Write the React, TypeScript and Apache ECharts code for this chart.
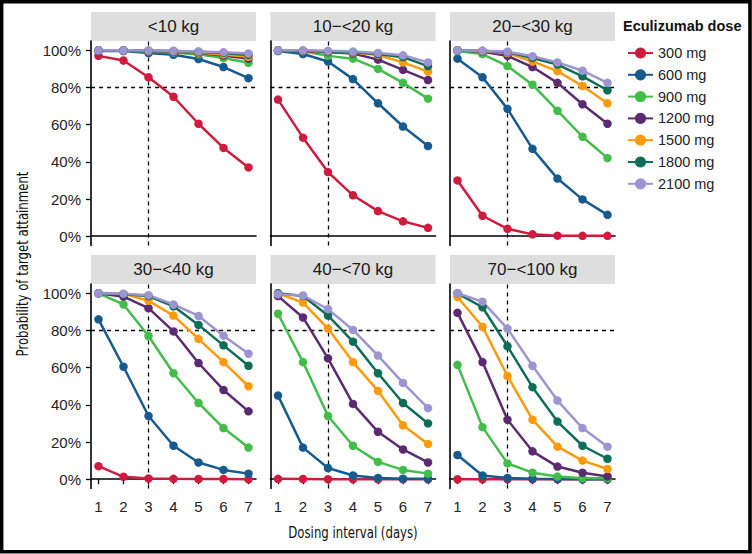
import React, { useEffect, useRef } from "react";
import * as echarts from "echarts";

const xValues = [1, 2, 3, 4, 5, 6, 7];
const xTicks = [1, 2, 3, 4, 5, 6, 7];
const yTicks = [0, 20, 40, 60, 80, 100];
const doses = ["300 mg", "600 mg", "900 mg", "1200 mg", "1500 mg", "1800 mg", "2100 mg"];
const doseColors = ["#CE1B3E", "#165A8E", "#42BD4A", "#5B2A70", "#FF9A0A", "#0E6D56", "#9D94D2"];
const panelTitles = ["<10 kg", "10−<20 kg", "20−<30 kg", "30−<40 kg", "40−<70 kg", "70−<100 kg"];
const refX = 3;
const refY = 80;

// rows: 300, 600, 900, 1200, 1500, 1800, 2100 mg
const wt0to10 = [
  [97, 94.5, 85.5, 75, 60.5, 47.5, 37],
  [99.6, 99.6, 98.5, 97.6, 95.3, 91, 85],
  [100, 99.8, 99.3, 98.8, 97.8, 95.8, 93.3],
  [100, 100, 99.6, 99.2, 98.5, 97.2, 95.5],
  [100, 100, 99.7, 99.4, 98.8, 97.8, 96.5],
  [100, 100, 99.8, 99.6, 99.2, 98.6, 97.5],
  [100, 100, 99.9, 99.7, 99.4, 99, 98.3],
];
const wt10to20 = [
  [73.5, 53, 34.5, 22, 13.5, 8, 4.5],
  [99.6, 98, 94, 84.5, 71.5, 59, 48.5],
  [99.8, 99.5, 97, 95.5, 90, 82.5, 74],
  [100, 99.3, 99, 98.3, 95, 89.5, 84],
  [100, 99.6, 99.3, 98.8, 97.5, 93.5, 88.5],
  [100, 99.8, 99.4, 99, 98, 96.3, 91.5],
  [100, 100, 99.7, 99.3, 98.6, 97.3, 93.5],
];
const wt20to30 = [
  [30, 11, 4, 1, 0.3, 0.2, 0.2],
  [95.5, 85.5, 68.5, 47, 31, 19.8, 11.5],
  [99.6, 98, 91.5, 81.5, 67.5, 53.5, 42],
  [100, 99.2, 97, 91, 82.5, 71, 60.5],
  [100, 99.5, 98.5, 94, 88.8, 80.8, 71.5],
  [100, 99.7, 99, 95.9, 92.3, 86, 78.5],
  [100, 99.8, 99.3, 96.8, 93.5, 89, 82.5],
];
const wt30to40 = [
  [7, 1.3, 0.4, 0.2, 0.1, 0.1, 0],
  [86, 60.5, 34, 18, 9, 5, 3],
  [100, 94, 77, 57, 41, 27.5, 17],
  [100, 98.2, 92, 79.5, 62.5, 48, 36.5],
  [100, 99.8, 96, 88, 75.5, 63, 50],
  [100, 99.5, 98.5, 93, 83, 72, 61],
  [100, 99.8, 99, 94, 87.8, 77.2, 67.5],
];
const wt40to70 = [
  [0.2, 0.1, 0, 0, 0, 0, 0],
  [45, 17, 6, 2, 0.7, 0.3, 0.2],
  [89, 63, 34, 18, 9.3, 5, 3],
  [98.5, 87, 65, 40.5, 25.5, 16, 9],
  [100, 95, 81, 63, 47.5, 29, 19],
  [100, 98.5, 88, 74, 57, 41, 30],
  [99.5, 98.8, 91.5, 80.3, 66.5, 51.8, 38.2],
];
const wt70to100 = [
  [0, 0, 0, 0, 0, 0, 0],
  [13, 2, 0.7, 0.3, 0.1, 0, 0],
  [61.5, 28, 8.5, 3.5, 1.4, 0.5, 0.5],
  [89.5, 63, 32, 15, 6.8, 3.5, 1.5],
  [98, 82, 55.5, 32, 17.5, 10, 5.5],
  [100, 92.5, 71.5, 49.5, 31, 18, 11],
  [100, 95.5, 81, 61, 42.3, 27.5, 17.5],
];
const panelData = [wt0to10, wt10to20, wt20to30, wt30to40, wt40to70, wt70to100];

const FONT = "'Liberation Sans', Arial, Helvetica, sans-serif";
const NARROW = "'Liberation Sans Narrow', 'DejaVu Sans Condensed', 'Liberation Sans', sans-serif";

const colLefts = [91, 270.5, 450];
const rowTops = [41, 284];
const gridW = 165;
const gridH = 204.5;
const stripH = 29;

function buildOption() {
  const grids: any[] = [];
  const xAxes: any[] = [];
  const yAxes: any[] = [];
  const series: any[] = [];
  const graphics: any[] = [];

  panelTitles.forEach((title, p) => {
    const row = Math.floor(p / 3);
    const col = p % 3;
    const left = colLefts[col];
    const top = rowTops[row];
    grids.push({ left, top, width: gridW, height: gridH, containLabel: false });
    xAxes.push({
      gridIndex: p,
      type: "value",
      min: 0.7,
      max: 7.3,
      axisLine: { show: true, lineStyle: { color: "#000", width: 1.6 } },
      axisTick: { show: row === 1, length: 5, lineStyle: { color: "#000", width: 1.3 }, customValues: xTicks },
      axisLabel: {
        show: row === 1,
        customValues: xTicks,
        fontSize: 15,
        color: "#222",
        margin: 10,
        fontFamily: FONT,
      },
      splitLine: { show: false },
    });
    yAxes.push({
      gridIndex: p,
      type: "value",
      min: -5,
      max: 105,
      axisLine: { show: true, lineStyle: { color: "#000", width: 1.6 } },
      axisTick: { show: col === 0, length: 5, lineStyle: { color: "#000", width: 1.3 }, customValues: yTicks },
      axisLabel: {
        show: col === 0,
        customValues: yTicks,
        formatter: (v: number) => `${v}%`,
        fontSize: 15,
        color: "#222",
        margin: 10,
        fontFamily: FONT,
      },
      splitLine: { show: false },
    });
    panelData[p].forEach((vals, d) => {
      const s: any = {
        type: "line",
        name: doses[d],
        xAxisIndex: p,
        yAxisIndex: p,
        data: xValues.map((x, i) => [x, vals[i]]),
        symbol: "circle",
        symbolSize: 8.5,
        lineStyle: { width: 2.5, color: doseColors[d] },
        itemStyle: { color: doseColors[d] },
        silent: true,
        z: 3,
      };
      if (d === 0) {
        s.markLine = {
          silent: true,
          symbol: "none",
          label: { show: false },
          lineStyle: { color: "#000", type: [4, 4], width: 1.3 },
          z: 2,
          data: [{ xAxis: refX }, { yAxis: refY }],
        };
      }
      series.push(s);
    });
    graphics.push({
      type: "rect",
      shape: { x: left, y: top - stripH, width: gridW, height: stripH },
      style: { fill: "#DEDEDE" },
      silent: true,
    });
    graphics.push({
      type: "text",
      x: left + gridW / 2,
      y: top - stripH / 2,
      style: {
        text: title,
        fontSize: 17,
        fill: "#1a1a1a",
        fontFamily: FONT,
        align: "center",
        verticalAlign: "middle",
      },
      silent: true,
    });
  });

  graphics.push({
    type: "text",
    x: 22,
    y: 264,
    rotation: Math.PI / 2,
    scaleX: 0.79,
    style: {
      text: "Probability of target attainment",
      fontSize: 16.5,
      fill: "#111",
      fontFamily: NARROW,
      align: "center",
      verticalAlign: "middle",
    },
    silent: true,
  });
  graphics.push({
    type: "text",
    x: 353,
    y: 532,
    scaleX: 0.79,
    style: {
      text: "Dosing interval (days)",
      fontSize: 16.5,
      fill: "#111",
      fontFamily: NARROW,
      align: "center",
      verticalAlign: "middle",
    },
    silent: true,
  });
  graphics.push({
    type: "text",
    x: 623,
    y: 26,
    style: {
      text: "Eculizumab dose",
      fontSize: 14.5,
      fontWeight: "bold",
      fill: "#111",
      fontFamily: FONT,
      align: "left",
      verticalAlign: "middle",
    },
    silent: true,
  });
  graphics.push({
    type: "rect",
    shape: { x: 1.6, y: 1.6, width: 748.4, height: 550.2 },
    style: { fill: "none", stroke: "#000", lineWidth: 3.6 },
    silent: true,
  });

  return {
    animation: false,
    backgroundColor: "#fff",
    grid: grids,
    xAxis: xAxes,
    yAxis: yAxes,
    series,
    legend: {
      orient: "vertical",
      left: 622,
      top: 40.5,
      itemWidth: 25,
      itemHeight: 14,
      itemGap: 6.8,
      data: doses,
      textStyle: { fontSize: 14.5, color: "#222", fontFamily: FONT },
      selectedMode: false,
    },
    graphic: graphics,
  };
}

export default function App() {
  const ref = useRef<HTMLDivElement>(null);
  useEffect(() => {
    if (!ref.current) return;
    const chart = echarts.init(ref.current, undefined, { renderer: "svg" });
    chart.setOption(buildOption() as any);
    return () => chart.dispose();
  }, []);
  return (
    <div
      ref={ref}
      style={{ position: "fixed", left: 0, top: 0, width: 752, height: 554, background: "#fff" }}
    />
  );
}
